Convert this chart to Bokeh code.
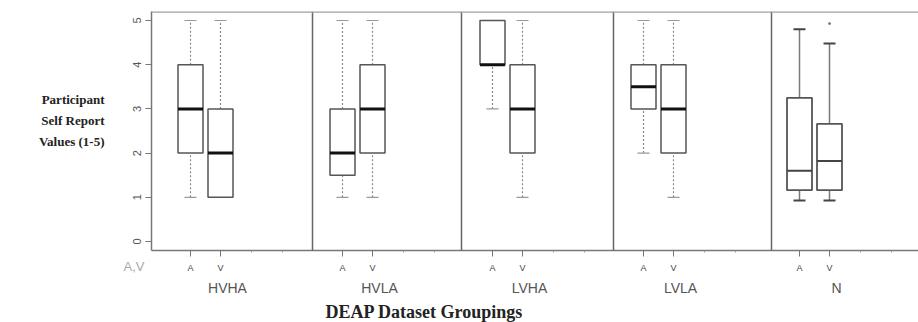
from bokeh.plotting import figure
from bokeh.models import Range1d, Span, FixedTicker, ColumnDataSource, LinearAxis, Title
from bokeh.embed import file_html
from bokeh.resources import INLINE

# ---- data ----
groups = ["HVHA", "HVLA", "LVHA", "LVLA", "N"]
series = ["A", "V"]
a_low = [1, 1, 3, 2, 0.93]
a_q1 = [2, 1.5, 4, 3, 1.16]
a_med = [3, 2, 4, 3.5, 1.6]
a_q3 = [4, 3, 5, 4, 3.25]
a_high = [5, 5, 5, 5, 4.8]
v_low = [1, 1, 1, 1, 0.93]
v_q1 = [1, 2, 2, 2, 1.16]
v_med = [2, 3, 3, 3, 1.82]
v_q3 = [3, 4, 4, 4, 2.66]
v_high = [5, 5, 5, 5, 4.48]
outlier_group = ["N"]
outlier_series = ["V"]
outlier_vals = [4.93]
y_ticks = [0, 1, 2, 3, 4, 5]

# ---- layout (screen-like x units) ----
panel_left = [0, 161, 310, 462, 620]
a_inset = [39, 30, 31, 30, 28]
pair_gap = 30
box_w = 25
cap_w = 12

def xpos(g, s):
    i = groups.index(g)
    return panel_left[i] + a_inset[i] + (pair_gap if s == "V" else 0)

rows = {k: [] for k in ["x", "low", "q1", "med", "q3", "high", "grp"]}
for s, lo, q1, md, q3, hi in [("A", a_low, a_q1, a_med, a_q3, a_high),
                              ("V", v_low, v_q1, v_med, v_q3, v_high)]:
    for i, g in enumerate(groups):
        rows["x"].append(xpos(g, s))
        rows["low"].append(lo[i]); rows["q1"].append(q1[i]); rows["med"].append(md[i])
        rows["q3"].append(q3[i]); rows["high"].append(hi[i]); rows["grp"].append(g)

def subset(pred):
    idx = [j for j, g in enumerate(rows["grp"]) if pred(g)]
    d = {k: [v[j] for j in idx] for k, v in rows.items()}
    d["left"] = [x - box_w / 2 for x in d["x"]]
    d["right"] = [x + box_w / 2 for x in d["x"]]
    d["cl"] = [x - cap_w / 2 for x in d["x"]]
    d["cr"] = [x + cap_w / 2 for x in d["x"]]
    return ColumnDataSource(d)

src_r = subset(lambda g: g != "N")
src_n = subset(lambda g: g == "N")

p = figure(width=918, height=322, output_backend="svg", toolbar_location=None,
           x_range=Range1d(0, 767), y_range=Range1d(-0.204, 5.204),
           min_border_left=151, min_border_right=0, min_border_top=11, min_border_bottom=72)
p.outline_line_color = None
p.grid.grid_line_color = None

# separators and top line
for i in range(1, len(groups)):
    p.add_layout(Span(location=panel_left[i], dimension="height", line_color="#666666", line_width=1.5))
p.add_layout(Span(location=5.204, dimension="width", line_color="#a0a0a0", line_width=2.5))

for src, dash, wcol, ww, capcol, capw, boxw, boxcol in [
        (src_r, "2 2", "#8a8a8a", 1.2, "#999999", 1.2, 1.5, "#555555"),
        (src_n, "solid", "#7a7a7a", 1.5, "#444444", 2, 1.8, "#555555")]:
    p.segment(x0="x", y0="q3", x1="x", y1="high", source=src, line_color=wcol, line_width=ww, line_dash=dash)
    p.segment(x0="x", y0="low", x1="x", y1="q1", source=src, line_color=wcol, line_width=ww, line_dash=dash)
    p.segment(x0="cl", y0="high", x1="cr", y1="high", source=src, line_color=capcol, line_width=capw)
    p.segment(x0="cl", y0="low", x1="cr", y1="low", source=src, line_color=capcol, line_width=capw)
    p.quad(left="left", right="right", bottom="q1", top="q3", source=src,
           fill_color="white", line_color=boxcol, line_width=boxw)

p.segment(x0="left", y0="med", x1="right", y1="med", source=src_r, line_color="#111111", line_width=3)
p.segment(x0="left", y0="med", x1="right", y1="med", source=src_n, line_color="#444444", line_width=2)

p.scatter(x=[xpos(g, s) for g, s in zip(outlier_group, outlier_series)], y=outlier_vals,
          size=2, color="#777777")

# first x axis: A / V
major, labels, minor = [], {}, []
for g in groups:
    for s in series:
        major.append(xpos(g, s)); labels[xpos(g, s)] = s
    minor += [xpos(g, "V") + 31, xpos(g, "V") + 62]
p.xaxis.ticker = FixedTicker(ticks=major, minor_ticks=minor)
p.xaxis.major_label_overrides = labels
p.xaxis.major_label_text_font = "Liberation Sans"
p.xaxis.major_label_text_font_size = "9px"
p.xaxis.major_label_text_color = "#444444"
p.xaxis.major_label_standoff = 6
p.xaxis.major_tick_out = 6
p.xaxis.major_tick_in = 0
p.xaxis.minor_tick_out = 2
p.xaxis.minor_tick_in = 0
for ax in [p.xaxis, p.yaxis]:
    ax.axis_line_color = "#777777"
    ax.axis_line_width = 1.5
    ax.major_tick_line_color = "#777777"
    ax.minor_tick_line_color = "#999999"

# second x axis: group names
gcent = [(xpos(g, "A") + xpos(g, "V")) / 2 + 22 for g in groups]
gax = LinearAxis(ticker=FixedTicker(ticks=gcent, minor_ticks=[]),
                 major_label_overrides={c: g for c, g in zip(gcent, groups)},
                 axis_line_color=None, major_tick_line_color=None, minor_tick_line_color=None,
                 major_tick_out=0, major_tick_in=0, minor_tick_out=0, minor_tick_in=0,
                 major_label_standoff=4, major_label_text_font="Liberation Sans",
                 major_label_text_font_size="14px", major_label_text_color="#555555")
p.add_layout(gax, "below")
p.add_layout(Title(text="DEAP Dataset Groupings", align="left", offset=174, standoff=2,
                   text_font="Liberation Serif", text_font_style="bold",
                   text_font_size="18px", text_color="#222222"), "below")

# y axis (inner): ticks, tick labels and the "A,V" key placed at the bottom
p.yaxis.ticker = FixedTicker(ticks=y_ticks)
p.yaxis.major_label_orientation = "vertical"
p.yaxis.major_label_text_font = "Liberation Sans"
p.yaxis.major_label_text_font_size = "11px"
p.yaxis.major_label_text_color = "#555555"
p.yaxis.major_tick_out = 6
p.yaxis.major_tick_in = 0
p.yaxis.minor_tick_out = 0
p.yaxis.minor_tick_in = 0
p.yaxis.major_label_standoff = 4
p.yaxis.axis_label = "\n" * 15 + "A,V"
p.yaxis.axis_label_orientation = "horizontal"
p.yaxis.axis_label_standoff = -14
p.yaxis.axis_label_text_font = "Liberation Sans"
p.yaxis.axis_label_text_font_style = "normal"
p.yaxis.axis_label_text_font_size = "13px"
p.yaxis.axis_label_text_color = "#aaaaaa"

# outer left axis carrying the y title
yax2 = LinearAxis(ticker=FixedTicker(ticks=[]), axis_line_color=None,
                  major_tick_line_color=None, minor_tick_line_color=None,
                  major_label_text_font_size="0px",
                  major_tick_out=0, major_tick_in=0, minor_tick_out=0, minor_tick_in=0,
                  axis_label="Participant\nSelf Report\nValues (1-5)\n",
                  axis_label_orientation="horizontal", axis_label_standoff=16,
                  axis_label_text_font="Liberation Serif", axis_label_text_font_style="bold",
                  axis_label_text_font_size="13px", axis_label_text_color="#222222",
                  axis_label_text_line_height=1.4)
p.add_layout(yax2, "left")

open("out.html", "w").write(file_html(p, INLINE))
